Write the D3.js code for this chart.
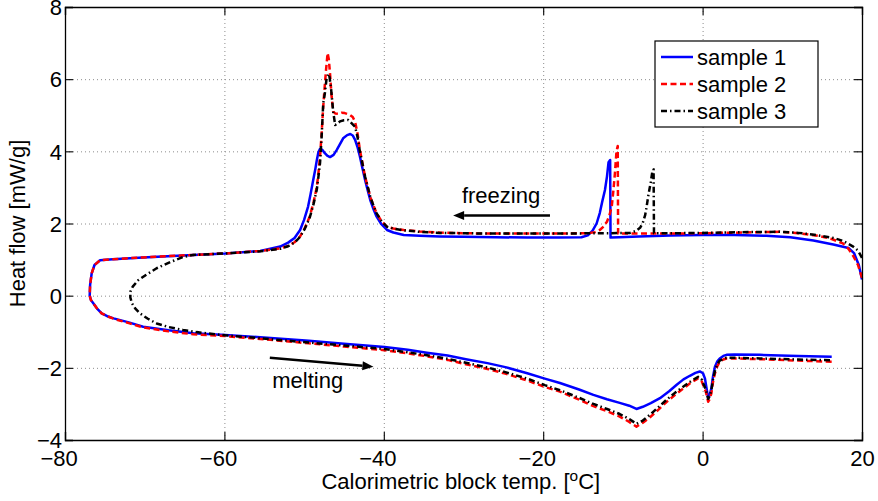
<!DOCTYPE html>
<html><head><meta charset="utf-8">
<script src="https://cdn.jsdelivr.net/npm/d3@7"></script>
<style>
html,body{margin:0;padding:0;background:#fff;}
svg{display:block;font-family:"Liberation Sans",Arial,Helvetica,sans-serif;}
</style></head><body>
<svg id="chart" width="878" height="501"></svg>
<script>
// ---------- data ----------
const xTicks = [-80, -60, -40, -20, 0, 20];
const yTicks = [-4, -2, 0, 2, 4, 6, 8];
const seriesNames = ["sample 1", "sample 2", "sample 3"];
const xLabel = "Calorimetric block temp. [";
const yLabel = "Heat flow [mW/g]";

// [temperature °C, heat flow mW/g] along the measurement path (freezing then melting)
const sample1 = [
[20,0.45],[19.6,0.85],[19.0,1.18],[18.3,1.32],[16.4,1.42],[13.9,1.53],[11,1.62],[8,1.66],[4,1.68],[0,1.68],
[-4,1.67],[-8,1.64],[-10.5,1.62],[-11.55,1.61],[-11.6,3.76],[-11.8,3.7],[-12.0,3.3],[-12.25,2.93],[-12.6,2.6],
[-12.9,2.29],[-13.3,2.0],[-13.8,1.8],[-14.4,1.67],[-15.2,1.62],[-18,1.61],[-22,1.61],[-26,1.62],[-30,1.63],
[-33,1.64],[-35.5,1.66],[-37.5,1.68],[-38.8,1.75],[-39.6,1.82],[-40.3,1.98],[-40.9,2.19],[-41.3,2.4],[-41.7,2.65],
[-42.0,2.9],[-42.35,3.21],[-42.7,3.55],[-43.0,3.86],[-43.3,4.12],[-43.6,4.32],[-43.9,4.44],[-44.2,4.48],
[-44.6,4.45],[-45.1,4.36],[-45.5,4.2],[-45.9,4.04],[-46.3,3.9],[-46.75,3.84],[-47.1,3.88],[-47.4,3.95],
[-47.7,4.04],[-48.0,4.07],[-48.2,3.98],[-48.4,3.76],[-48.6,3.5],[-48.85,3.21],[-49.2,2.8],[-49.5,2.47],
[-50.0,2.1],[-50.5,1.82],[-51.2,1.6],[-52,1.47],[-53,1.36],[-55.5,1.24],[-59.9,1.17],[-63.9,1.13],[-70.2,1.06],
[-74,1.01],[-75.6,0.98],[-76.3,0.85],[-76.65,0.62],[-76.85,0.3],[-76.9,0],[-76.75,-0.12],[-76.45,-0.21],
[-76.0,-0.35],[-75.4,-0.49],[-74.7,-0.57],[-73.9,-0.63],[-72,-0.74],[-70.2,-0.86],[-67,-0.96],[-63.9,-1.04],
[-59.9,-1.09],[-55.5,-1.15],[-49.4,-1.25],[-45,-1.33],[-39.9,-1.42],[-37,-1.5],[-34.6,-1.58],[-32,-1.66],
[-29.7,-1.76],[-27,-1.87],[-24.75,-1.98],[-22,-2.15],[-19.8,-2.3],[-17.9,-2.42],[-15.5,-2.6],[-13.7,-2.75],
[-12,-2.87],[-10.4,-2.97],[-9.2,-3.05],[-8.3,-3.14],[-7.5,-3.08],[-6.5,-2.98],[-5.35,-2.84],[-4.2,-2.65],
[-3.25,-2.47],[-2.4,-2.32],[-1.6,-2.22],[-0.9,-2.14],[-0.35,-2.1],[0.05,-2.15],[0.3,-2.3],[0.5,-2.57],
[0.7,-2.84],[0.9,-2.75],[1.1,-2.57],[1.3,-2.25],[1.55,-1.97],[1.85,-1.82],[2.15,-1.74],[2.6,-1.67],
[3.0,-1.64],[4,-1.63],[7.2,-1.64],[12,-1.67],[16.2,-1.69]
];

const sample2 = [
[20,0.49],[19.5,0.85],[18.9,1.1],[18.3,1.3],[17.6,1.45],[16.2,1.57],[14.7,1.65],[12,1.73],[9.7,1.77],[5,1.75],
[0,1.73],[-5,1.72],[-10.6,1.72],[-10.65,4.15],[-10.8,4.0],[-11.0,3.4],[-11.2,2.9],[-11.4,2.47],[-11.7,2.22],
[-12.0,2.05],[-12.5,1.9],[-12.9,1.82],[-13.5,1.76],[-14.5,1.73],[-20,1.72],[-26,1.72],[-30,1.73],[-33,1.75],
[-35.5,1.78],[-37.5,1.82],[-38.8,1.86],[-39.6,1.91],[-40.3,2.07],[-40.9,2.28],[-41.3,2.5],[-41.7,2.74],
[-42.0,3.0],[-42.35,3.3],[-42.7,3.7],[-43.0,4.04],[-43.3,4.5],[-43.6,4.82],[-43.9,4.95],[-44.25,5.01],
[-44.9,5.06],[-45.3,5.07],[-45.7,5.04],[-46.1,5.05],[-46.35,5.1],[-46.55,5.52],[-46.75,6.16],[-46.9,6.55],
[-47.05,6.72],[-47.25,6.25],[-47.45,5.7],[-47.6,5.24],[-47.8,4.5],[-48.0,3.85],[-48.2,3.4],[-48.4,3.02],
[-48.8,2.6],[-49.3,2.19],[-49.9,1.88],[-50.5,1.64],[-51.2,1.48],[-52,1.38],[-53,1.31],[-55.5,1.24],
[-59.9,1.17],[-63.9,1.13],[-70.2,1.06],[-74,1.01],[-75.6,0.98],[-76.3,0.85],[-76.65,0.62],[-76.85,0.3],
[-76.9,0],[-76.75,-0.12],[-76.45,-0.21],[-76.0,-0.35],[-75.4,-0.49],[-74.7,-0.57],[-73.9,-0.64],[-72,-0.76],
[-70.2,-0.88],[-67,-0.99],[-63.9,-1.07],[-59.9,-1.12],[-55.5,-1.2],[-49.4,-1.32],[-45,-1.41],[-39.9,-1.51],
[-37,-1.6],[-34.6,-1.68],[-32,-1.78],[-29.7,-1.9],[-27,-2.03],[-24.75,-2.16],[-22,-2.35],[-19.8,-2.53],
[-17.9,-2.66],[-15.5,-2.88],[-13.7,-3.06],[-12,-3.2],[-10.4,-3.35],[-9.2,-3.5],[-8.3,-3.63],[-7.5,-3.52],
[-6.6,-3.37],[-5.5,-3.15],[-4.5,-2.94],[-3.4,-2.74],[-2.4,-2.57],[-1.4,-2.4],[-0.55,-2.29],[-0.1,-2.38],
[0.4,-2.66],[0.7,-2.94],[0.9,-2.86],[1.1,-2.71],[1.3,-2.4],[1.55,-2.15],[1.85,-1.95],[2.15,-1.83],
[2.6,-1.77],[3.0,-1.74],[4,-1.74],[7.2,-1.76],[12,-1.8],[16.2,-1.83]
];

const sample3 = [
[20,1.05],[19.5,1.25],[18.9,1.36],[17.6,1.52],[16.4,1.6],[14,1.69],[12,1.74],[9.7,1.77],[5,1.76],[0,1.74],
[-4,1.73],[-6.1,1.73],[-6.15,3.5],[-6.3,3.45],[-6.5,3.15],[-6.8,2.79],[-7.0,2.5],[-7.2,2.24],[-7.5,2.02],
[-7.85,1.88],[-8.4,1.79],[-9.1,1.74],[-12,1.73],[-20,1.72],[-26,1.72],[-30,1.73],[-33,1.74],[-35.5,1.77],
[-37.5,1.81],[-38.8,1.86],[-39.6,1.91],[-40.3,2.07],[-40.9,2.28],[-41.3,2.5],[-41.7,2.74],[-42.0,3.0],
[-42.35,3.3],[-42.7,3.68],[-43.0,4.0],[-43.3,4.4],[-43.6,4.68],[-44.05,4.78],[-44.45,4.87],[-45.0,4.86],
[-45.5,4.83],[-45.8,4.77],[-46.1,4.73],[-46.35,5.1],[-46.6,5.7],[-46.8,6.05],[-46.95,6.15],[-47.2,5.98],
[-47.4,5.6],[-47.6,5.33],[-47.8,4.4],[-48.0,3.68],[-48.2,3.3],[-48.4,2.95],[-48.8,2.55],[-49.3,2.16],
[-49.9,1.86],[-50.5,1.63],[-51.2,1.47],[-52,1.37],[-53,1.3],[-55.5,1.23],[-59.9,1.17],[-63.9,1.13],
[-65.2,1.07],[-66.8,0.93],[-68.5,0.76],[-69.8,0.58],[-70.8,0.43],[-71.5,0.25],[-71.8,0.11],[-71.8,-0.05],
[-71.6,-0.21],[-71.2,-0.35],[-70.6,-0.49],[-69.6,-0.64],[-68.5,-0.77],[-67,-0.87],[-65.2,-0.95],
[-63.5,-1.01],[-59.9,-1.1],[-55.5,-1.18],[-49.4,-1.3],[-45,-1.38],[-39.9,-1.48],[-37,-1.57],[-34.6,-1.65],
[-32,-1.75],[-29.7,-1.86],[-27,-1.99],[-24.75,-2.12],[-22,-2.3],[-19.8,-2.48],[-17.9,-2.62],[-15.5,-2.83],
[-13.7,-3.0],[-12,-3.14],[-10.4,-3.28],[-9.2,-3.42],[-8.3,-3.55],[-7.5,-3.46],[-6.6,-3.3],[-5.5,-3.08],
[-4.5,-2.88],[-3.4,-2.68],[-2.4,-2.52],[-1.4,-2.36],[-0.55,-2.25],[-0.1,-2.33],[0.4,-2.6],[0.7,-2.86],
[0.9,-2.78],[1.1,-2.62],[1.3,-2.33],[1.55,-2.08],[1.85,-1.9],[2.15,-1.8],[2.6,-1.75],[3.0,-1.72],
[4,-1.72],[7.2,-1.74],[12,-1.77],[16.2,-1.79]
];

const seriesColors = ["#0000ff", "#ff0000", "#000000"];
const seriesDash = [null, "6,3.5", "6,3,1.5,3"];

// annotations [start, end] in data units, arrow points at end
const freezeArrow = [[-19.15, 2.22], [-31.3, 2.22]];
const freezeText = {t: -30.2, h: 2.56, label: "freezing"};
const meltArrow = [[-54.3, -1.72], [-41.3, -1.97]];
const meltText = {t: -54.0, h: -2.56, label: "melting"};

// ---------- layout ----------
const W = 878, H = 501;
const margin = {left: 65, top: 7, right: 16, bottom: 61};
const iw = W - margin.left - margin.right;
const ih = H - margin.top - margin.bottom;
const FS = 22;

const svg = d3.select("#chart");
const g = svg.append("g").attr("transform", `translate(${margin.left},${margin.top})`);

const x = d3.scaleLinear().domain([-80, 20]).range([0, iw]);
const y = d3.scaleLinear().domain([-4, 8]).range([ih, 0]);

// grid
const gridX = g.append("g").attr("transform", `translate(0,${ih})`)
  .call(d3.axisBottom(x).tickValues(xTicks.slice(1, -1)).tickSize(-ih).tickFormat(""));
const gridY = g.append("g")
  .call(d3.axisLeft(y).tickValues(yTicks.slice(1, -1)).tickSize(-iw).tickFormat(""));
[gridX, gridY].forEach(s => {
  s.select(".domain").remove();
  s.selectAll("line").attr("stroke", "#8c8c8c").attr("stroke-width", 1).attr("stroke-dasharray", "1,3");
});

// curves
const defs = svg.append("defs");
defs.append("clipPath").attr("id", "clip").append("rect").attr("x", -2).attr("y", -2).attr("width", iw + 4).attr("height", ih + 4);
const line = d3.line().x(d => x(d[0])).y(d => y(d[1])).curve(d3.curveLinear);
const allSeries = [sample1, sample2, sample3];
const curves = g.append("g").attr("clip-path", "url(#clip)");
allSeries.forEach((s, i) => {
  curves.append("path").datum(s).attr("d", line)
    .attr("fill", "none").attr("stroke", seriesColors[i]).attr("stroke-width", 2.5)
    .attr("stroke-linejoin", "round")
    .attr("stroke-dasharray", seriesDash[i]);
});

// axes with inward ticks on all four sides
const fmt = v => (v < 0 ? "\u2212" : "") + Math.abs(v);
const xAx = g.append("g").attr("transform", `translate(0,${ih})`)
  .call(d3.axisBottom(x).tickValues(xTicks).tickSize(-8).tickFormat(fmt));
const yAx = g.append("g")
  .call(d3.axisLeft(y).tickValues(yTicks).tickSize(-8).tickFormat(fmt));
const xTop = g.append("g").call(d3.axisTop(x).tickValues(xTicks).tickSize(-8).tickFormat(""));
const yRight = g.append("g").attr("transform", `translate(${iw},0)`)
  .call(d3.axisRight(y).tickValues(yTicks).tickSize(-8).tickFormat(""));
[xAx, yAx, xTop, yRight].forEach(s => {
  s.select(".domain").attr("stroke", "#000").attr("stroke-width", 1.3);
  s.selectAll("line").attr("stroke", "#000").attr("stroke-width", 1.1);
  s.selectAll("text").attr("fill", "#000").style("font-size", FS + "px")
    .style("font-family", '"Liberation Sans",Arial,Helvetica,sans-serif');
});
// x labels: digits centred on the tick, minus sign hanging to the left
xAx.selectAll(".tick text").attr("y", 26).attr("dy", 0).each(function(d) {
  const t = d3.select(this);
  if (d < 0) {
    const full = this.getComputedTextLength();
    const digits = this.getSubStringLength(1, this.textContent.length - 1);
    t.attr("x", -(full - digits) / 2);
  }
});
yAx.selectAll(".tick text").attr("x", -3).attr("dy", "0.35em");

// axis titles
const xt = svg.append("text").attr("x", margin.left + x(-40) + 77).attr("y", 489)
  .attr("text-anchor", "middle").style("font-size", FS + "px");
xt.append("tspan").text(xLabel);
xt.append("tspan").attr("dy", -8).style("font-size", (FS * 0.7) + "px").text("o");
xt.append("tspan").attr("dy", 8).text("C]");
svg.append("text").attr("transform", `translate(25,${margin.top + ih / 2}) rotate(-90)`)
  .attr("text-anchor", "middle").style("font-size", FS + "px").text(yLabel);

// annotations
function arrow(p) {
  const x0 = x(p[0][0]), y0 = y(p[0][1]), x1 = x(p[1][0]), y1 = y(p[1][1]);
  const a = Math.atan2(y1 - y0, x1 - x0), L = 11, hw = 4.5;
  const bx = x1 - L * Math.cos(a), by = y1 - L * Math.sin(a);
  g.append("line").attr("x1", x0).attr("y1", y0).attr("x2", bx).attr("y2", by)
    .attr("stroke", "#000").attr("stroke-width", 2.5);
  g.append("path").attr("d", `M${x1},${y1}L${bx - hw * Math.sin(a)},${by + hw * Math.cos(a)}L${bx + hw * Math.sin(a)},${by - hw * Math.cos(a)}Z`)
    .attr("fill", "#000");
}
arrow(freezeArrow);
arrow(meltArrow);
g.append("text").attr("x", x(freezeText.t)).attr("y", y(freezeText.h)).style("font-size", FS + "px").text(freezeText.label);
g.append("text").attr("x", x(meltText.t)).attr("y", y(meltText.h)).style("font-size", FS + "px").text(meltText.label);

// legend
const lg = svg.append("g").attr("transform", "translate(655,41)");
lg.append("rect").attr("width", 163).attr("height", 86).attr("fill", "#fff").attr("stroke", "#000").attr("stroke-width", 1.2);
const rowY = [16, 43, 70];
seriesNames.forEach((n, i) => {
  lg.append("line").attr("x1", 6).attr("x2", 38).attr("y1", rowY[i]).attr("y2", rowY[i])
    .attr("stroke", seriesColors[i]).attr("stroke-width", 2.5).attr("stroke-dasharray", seriesDash[i]);
  lg.append("text").attr("x", 42).attr("y", rowY[i] + 7.5).style("font-size", FS + "px").text(n);
});
</script>
</body></html>
